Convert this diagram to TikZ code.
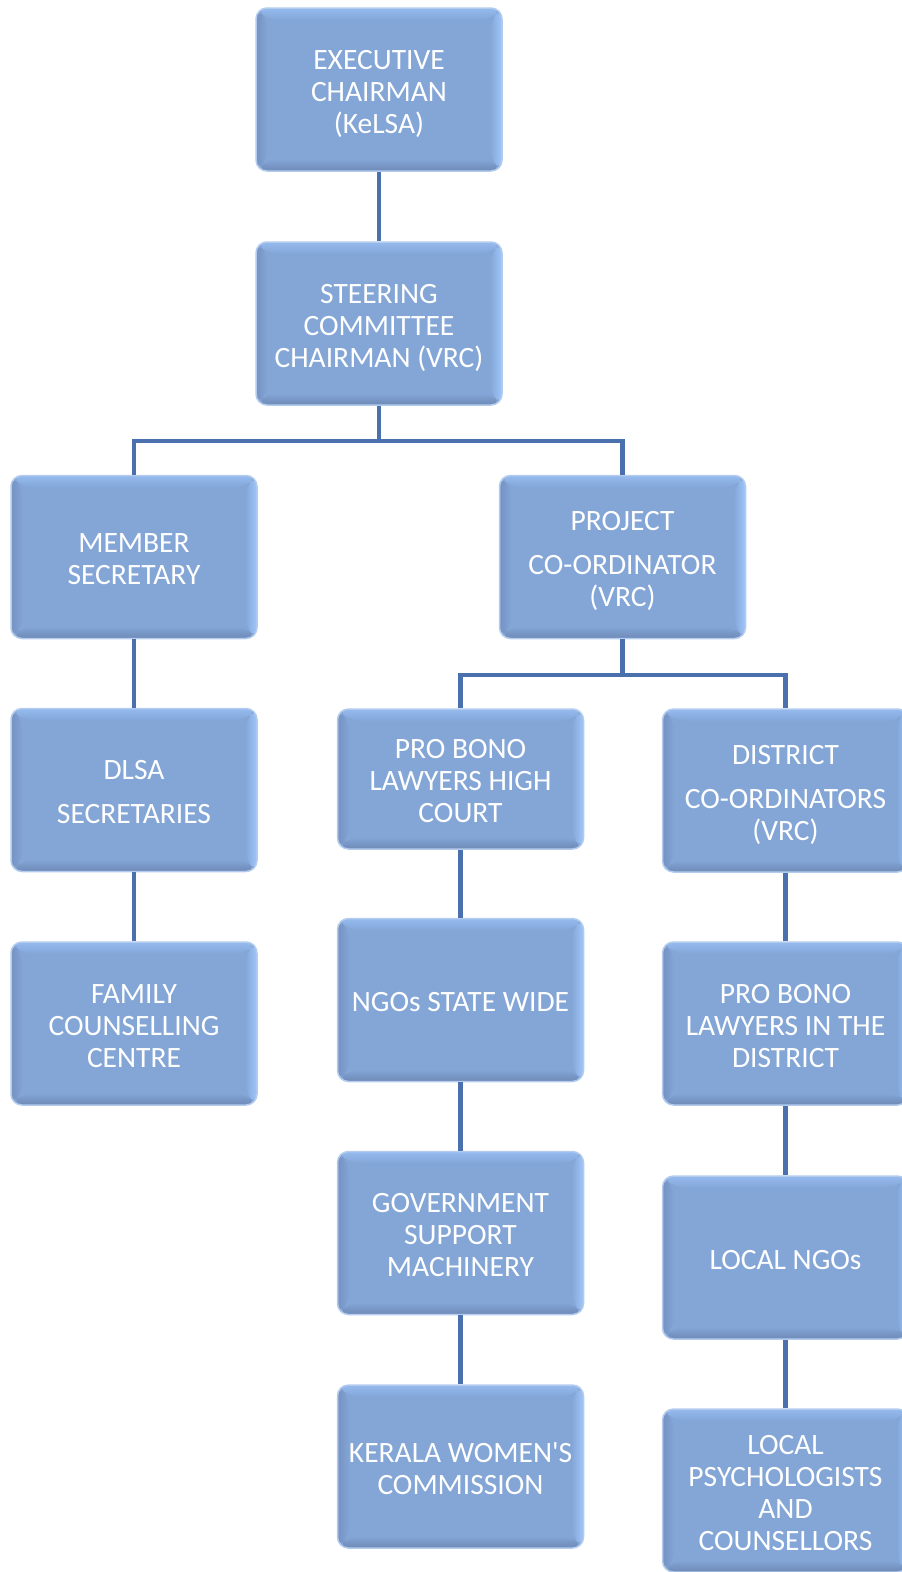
\documentclass[tikz,border=0pt]{standalone}
\usepackage{fontspec}
\setmainfont{Carlito}
\definecolor{boxfill}{HTML}{83A6D7}
\definecolor{boxedge}{HTML}{B3CCEE}
\definecolor{bvtop}{HTML}{95BAEE}
\definecolor{bvright}{HTML}{A0C6FA}
\definecolor{bvbottom}{HTML}{6E89B6}
\definecolor{bvleft}{HTML}{7592C2}
\definecolor{linecol}{HTML}{4A70AE}
\newcommand\boxlines[1]{\raisebox{-5.5pt}[\height][\depth]{\begin{tabular}{@{}c@{}}#1\end{tabular}}}
\tikzset{
  orgbox/.style={rectangle, rounded corners=11pt, fill=boxfill, draw=boxedge,
    line width=1.5pt, minimum width=246pt, minimum height=163pt, inner sep=0pt,
    text=white, font=\fontsize{29.5}{32}\selectfont,
    path picture={
      \path (path picture bounding box.north west) coordinate (pnw)
            (path picture bounding box.north east) coordinate (pne)
            (path picture bounding box.south east) coordinate (pse)
            (path picture bounding box.south west) coordinate (psw);
      \shade[top color=bvtop, bottom color=boxfill] (pnw) -- (pne) -- ([shift={(-12pt,-12pt)}]pne) -- ([shift={(12pt,-12pt)}]pnw) -- cycle;
      \shade[left color=boxfill, right color=bvright] (pne) -- (pse) -- ([shift={(-12pt,12pt)}]pse) -- ([shift={(-12pt,-12pt)}]pne) -- cycle;
      \shade[top color=boxfill, bottom color=bvbottom] (pse) -- (psw) -- ([shift={(12pt,12pt)}]psw) -- ([shift={(-12pt,12pt)}]pse) -- cycle;
      \shade[left color=bvleft, right color=boxfill] (psw) -- (pnw) -- ([shift={(12pt,-12pt)}]pnw) -- ([shift={(12pt,12pt)}]psw) -- cycle;
    }},
  shortbox/.style={orgbox, minimum height=140pt},
  conn/.style={draw=linecol, line width=4.5pt},
}
\begin{document}
\begin{tikzpicture}[x=1pt, y=-1pt]
\path[use as bounding box] (0,0) rectangle (902,1572);
\clip (0,0) rectangle (902,1572);
\fill[white] (0,0) rectangle (902,1572);

% top
\node[orgbox] (exec) at (379,89.5) {\boxlines{EXECUTIVE\\CHAIRMAN\\(KeLSA)}};
\node[orgbox] (steer) at (379,323.5) {\boxlines{STEERING\\COMMITTEE\\CHAIRMAN (VRC)}};
% second level
\node[orgbox] (member) at (134,557) {\boxlines{MEMBER\\SECRETARY}};
\node[orgbox] (proj) at (622.5,557) {\boxlines{PROJECT\\[12pt]CO-ORDINATOR\\(VRC)}};
% left column
\node[orgbox] (dlsa) at (134,790) {\boxlines{DLSA\\[12pt]SECRETARIES}};
\node[orgbox] (family) at (134,1023.5) {\boxlines{FAMILY\\COUNSELLING\\CENTRE}};
% middle column
\node[shortbox] (probono) at (460.5,779) {\boxlines{PRO BONO\\LAWYERS HIGH\\COURT}};
\node[orgbox] (ngos) at (460.5,1000) {\boxlines{NGOs STATE WIDE}};
\node[orgbox] (gov) at (460.5,1233) {\boxlines{GOVERNMENT\\SUPPORT\\MACHINERY}};
\node[orgbox] (kerala) at (460.5,1466.5) {\boxlines{KERALA WOMEN\textquotesingle S\\COMMISSION}};
% right column
\node[orgbox] (district) at (785.5,790.5) {\boxlines{DISTRICT\\[12pt]CO-ORDINATORS\\(VRC)}};
\node[orgbox] (pbdist) at (785.5,1023.5) {\boxlines{PRO BONO\\LAWYERS IN THE\\DISTRICT}};
\node[orgbox] (localngo) at (785.5,1257.5) {\boxlines{LOCAL NGOs}};
\node[orgbox] (psych) at (785.5,1490.5) {\boxlines{LOCAL\\PSYCHOLOGISTS\\AND\\COUNSELLORS}};

% junctions
\coordinate (j1) at (379,441);
\coordinate (j2) at (622.5,675);

% connectors
\draw[conn] (exec.south) -- (steer.north);
\draw[conn] (steer.south) -- (j1);
\draw[conn] (member.north) |- (j1) -| (proj.north);
\draw[conn] (proj.south) -- (j2);
\draw[conn] (probono.north) |- (j2) -| (district.north);
\draw[conn] (member.south) -- (dlsa.north);
\draw[conn] (dlsa.south) -- (family.north);
\draw[conn] (probono.south) -- (ngos.north);
\draw[conn] (ngos.south) -- (gov.north);
\draw[conn] (gov.south) -- (kerala.north);
\draw[conn] (district.south) -- (pbdist.north);
\draw[conn] (pbdist.south) -- (localngo.north);
\draw[conn] (localngo.south) -- (psych.north);
\end{tikzpicture}
\end{document}
